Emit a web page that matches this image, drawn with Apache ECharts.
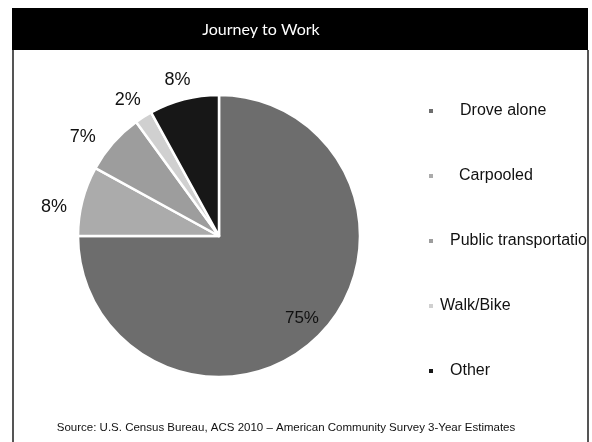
<!DOCTYPE html>
<html><head><meta charset="utf-8">
<script src="https://cdn.jsdelivr.net/npm/echarts@6/dist/echarts.min.js"></script>
<style>html,body{margin:0;padding:0;background:#fff}#c{width:592px;height:442px}</style>
</head><body><div id="c"></div>
<script>
// ---- data ----
const categories = ['Drove alone', 'Carpooled', 'Public transportation', 'Walk/Bike', 'Other'];
const shares = [75, 8, 7, 2, 8];
const titleText = 'Journey to Work';
const sourceText = 'Source: U.S. Census Bureau, ACS 2010 \u2013 American Community Survey 3-Year Estimates';

// ---- styles ----
const colors = ['#6d6d6d', '#ababab', '#9d9d9d', '#d0d0d0', '#171717'];
const labelNudge = [[31, 30], [2, 11], [-4, 6], [7, -2], [11, -2]];
const legendIndent = [21, 20, 11, 1, 11];

const chart = echarts.init(document.getElementById('c'));
const pieData = categories.map((name, i) => ({
  name: name,
  value: shares[i],
  label: i === 0 ? { position: 'inside', fontSize: 17 } : { position: 'outside' }
}));
const legendData = categories.map((name, i) => ({
  name: name,
  textStyle: { padding: [0, 0, 0, legendIndent[i]] }
}));

chart.setOption({
  animation: false,
  color: colors,
  graphic: [
    { type: 'rect', shape: { x: 12, y: 8, width: 576, height: 42 }, style: { fill: '#000' }, silent: true },
    { type: 'line', shape: { x1: 13, y1: 50, x2: 13, y2: 442 }, style: { stroke: '#555', lineWidth: 2 }, silent: true },
    { type: 'line', shape: { x1: 588, y1: 50, x2: 588, y2: 442 }, style: { stroke: '#555', lineWidth: 2 }, silent: true },
    { type: 'text', x: 261, y: 30, style: { text: titleText, fill: '#fff', font: '16px Lato, "Open Sans", sans-serif', textAlign: 'center', textVerticalAlign: 'middle' }, silent: true },
    { type: 'text', x: 286, y: 428, style: { text: sourceText, fill: '#111', font: '11.5px "Liberation Sans", Arial, sans-serif', textAlign: 'center', textVerticalAlign: 'middle' }, silent: true }
  ],
  legend: {
    orient: 'vertical',
    left: 427,
    top: 103,
    padding: 0,
    itemWidth: 6,
    itemHeight: 6,
    itemGap: 49,
    icon: 'rect',
    data: legendData,
    textStyle: {
      fontFamily: '"Liberation Sans", Arial, sans-serif',
      fontSize: 16,
      lineHeight: 16,
      color: '#111',
      width: 140,
      overflow: 'truncate',
      ellipsis: ''
    }
  },
  series: [{
    type: 'pie',
    center: [219, 236],
    radius: 141,
    startAngle: 90,
    clockwise: true,
    avoidLabelOverlap: false,
    itemStyle: { borderColor: '#fff', borderWidth: 2.5 },
    label: {
      show: true,
      formatter: '{c}%',
      fontFamily: '"Liberation Sans", Arial, sans-serif',
      fontSize: 18,
      color: '#111',
      distanceToLabelLine: 0
    },
    labelLine: { show: false, length: 18, length2: 0 },
    labelLayout: function (p) {
      const n = labelNudge[p.dataIndex];
      return { dx: n[0], dy: n[1] };
    },
    emphasis: { disabled: true },
    data: pieData
  }]
});
</script>
</body></html>
